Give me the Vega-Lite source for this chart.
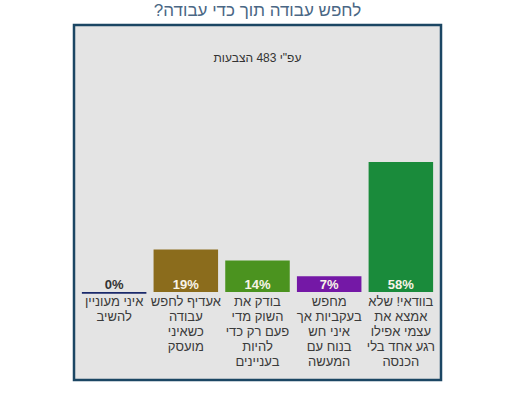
{
  "$schema": "https://vega.github.io/schema/vega-lite/v6.json",
  "width": 367,
  "height": 355,
  "autosize": {"type": "none"},
  "padding": {"left": 74, "top": 25, "right": 80, "bottom": 15},
  "background": "white",
  "title": {
    "text": "לחפש עבודה תוך כדי עבודה?\u200f",
    "subtitle": "עפ\"י 483 הצבעות",
    "font": "Liberation Sans",
    "fontSize": 17,
    "fontWeight": "normal",
    "color": "#4a6785",
    "subtitleFont": "Liberation Sans",
    "subtitleFontSize": 12,
    "subtitleColor": "#333333",
    "subtitlePadding": 33,
    "offset": -40,
    "anchor": "middle",
    "frame": "group"
  },
  "config": {
    "view": {"fill": "#e4e4e4", "stroke": "#1b4663", "strokeWidth": 2.5},
    "font": "Liberation Sans"
  },
  "data": {
    "values": [
      {"order": 1, "cat": "איני מעוניין להשיב", "label": "איני מעוניין|להשיב", "value": 0, "pct": "0%", "color": "#1b2a6b"},
      {"order": 2, "cat": "אעדיף לחפש עבודה כשאיני מועסק", "label": "אעדיף לחפש|עבודה|כשאיני|מועסק", "value": 19, "pct": "19%", "color": "#8b6c1c"},
      {"order": 3, "cat": "בודק את השוק מדי פעם רק כדי להיות בעניינים", "label": "בודק את|השוק מדי|פעם רק כדי|להיות|בעניינים", "value": 14, "pct": "14%", "color": "#4b931f"},
      {"order": 4, "cat": "מחפש בעקביות אך איני חש בנוח עם המעשה", "label": "מחפש|בעקביות אך|איני חש|בנוח עם|המעשה", "value": 7, "pct": "7%", "color": "#7418a6"},
      {"order": 5, "cat": "בוודאי! שלא אמצא את עצמי אפילו רגע אחד בלי הכנסה", "label": "בוודאי! שלא|אמצא את|עצמי אפילו|רגע אחד בלי|הכנסה", "value": 58, "pct": "58%", "color": "#1a8b3b"}
    ]
  },
  "encoding": {
    "x": {
      "field": "cat",
      "type": "nominal",
      "sort": {"field": "order"},
      "scale": {"paddingInner": 0.1, "paddingOuter": 0.11},
      "axis": null
    }
  },
  "layer": [
    {
      "mark": {"type": "bar"},
      "encoding": {
        "y": {"field": "value", "type": "quantitative", "scale": {"domain": [-39.3, 119.2], "zero": false, "nice": false}, "axis": null},
        "y2": {"datum": 0},
        "color": {"field": "color", "type": "nominal", "scale": null}
      }
    },
    {
      "transform": [{"filter": "datum.value == 0"}],
      "mark": {"type": "bar"},
      "encoding": {
        "y": {"datum": 0},
        "y2": {"datum": -0.8},
        "color": {"field": "color", "type": "nominal", "scale": null}
      }
    },
    {
      "mark": {"type": "text", "baseline": "alphabetic", "dy": -3, "fontSize": 13, "fontWeight": "bold", "align": "center"},
      "encoding": {
        "y": {"datum": 0},
        "text": {"field": "pct"},
        "color": {"condition": {"test": "datum.value == 0", "value": "#333333"}, "value": "#f8f4e8"}
      }
    },
    {
      "mark": {"type": "text", "baseline": "top", "dy": 4, "fontSize": 13, "lineHeight": 15, "lineBreak": "|", "align": "center", "color": "#3a3a3a"},
      "encoding": {
        "y": {"datum": 0},
        "text": {"field": "label"}
      }
    }
  ]
}
